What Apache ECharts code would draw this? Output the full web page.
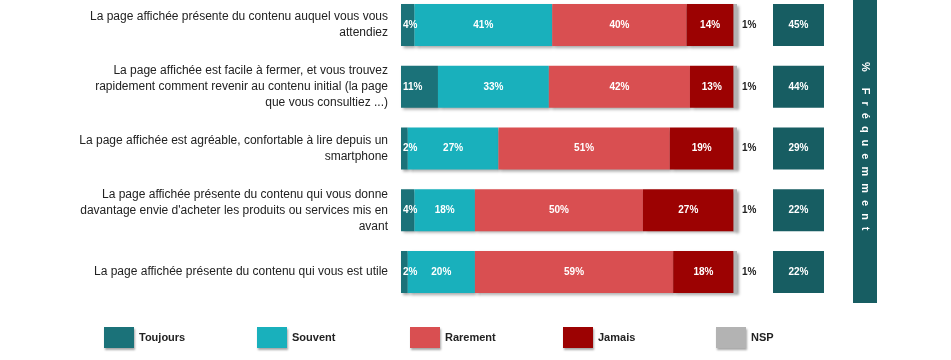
<!DOCTYPE html>
<html>
<head>
<meta charset="utf-8">
<script src="https://cdn.jsdelivr.net/npm/echarts@6/dist/echarts.min.js"></script>
<style>
html,body{margin:0;padding:0;background:#fff;}
#chart{width:951px;height:360px;}
</style>
</head>
<body>
<div id="chart"></div>
<script>
const categories = [
  "La page affichée présente du contenu auquel vous vous\nattendiez",
  "La page affichée est facile à fermer, et vous trouvez\nrapidement comment revenir au contenu initial (la page\nque vous consultiez ...)",
  "La page affichée est agréable, confortable à lire depuis un\nsmartphone",
  "La page affichée présente du contenu qui vous donne\ndavantage envie d'acheter les produits ou services mis en\navant",
  "La page affichée présente du contenu qui vous est utile"
];
const seriesNames = ["Toujours", "Souvent", "Rarement", "Jamais", "NSP"];
const toujours = [4, 11, 2, 4, 2];
const souvent = [41, 33, 27, 18, 20];
const rarement = [40, 42, 51, 50, 59];
const jamais = [14, 13, 19, 27, 18];
const nsp = [1, 1, 1, 1, 1];
const frequemment = [45, 44, 29, 22, 22];
const sideTitle = "% Fréquemment";

const colors = ["#1b7279", "#19b0bc", "#d94f51", "#9c0202", "#b3b3b3"];
const values = [toujours, souvent, rarement, jamais, nsp];

const chart = echarts.init(document.getElementById('chart'));

const shadow = {shadowColor: 'rgba(0,0,0,0.35)', shadowBlur: 3, shadowOffsetX: 2, shadowOffsetY: 2};

const barSeries = seriesNames.map((name, i) => ({
  name: name,
  type: 'bar',
  stack: 'total',
  xAxisIndex: 0, yAxisIndex: 0,
  barWidth: 42,
  data: values[i],
  itemStyle: Object.assign({color: colors[i]}, shadow),
  label: i === 4 ? {
    show: true, position: 'right', distance: 5,
    formatter: '{c}%', color: '#222', fontWeight: 'bold', fontSize: 10,
    fontFamily: 'Liberation Sans'
  } : {
    show: true, position: i === 0 ? 'insideLeft' : 'inside', distance: 2,
    formatter: '{c}%', color: '#fff', fontWeight: 'bold', fontSize: 10,
    fontFamily: 'Liberation Sans'
  },
  emphasis: {disabled: true}
}));

const legendLefts = [99, 252, 405, 558, 711];
const legends = seriesNames.map((n, i) => ({
  data: [n], left: legendLefts[i], top: 322,
  itemWidth: 30, itemHeight: 21, itemGap: 0,
  icon: 'rect',
  selectedMode: false,
  itemStyle: {shadowColor: 'rgba(0,0,0,0.35)', shadowBlur: 2, shadowOffsetX: 1, shadowOffsetY: 2},
  textStyle: {fontSize: 11, fontWeight: 'bold', color: '#222', fontFamily: 'Liberation Sans', padding: [3, 0, 0, 0]}
}));

// side title: place each character with letter spacing
const sideFont = 'bold 11px "Liberation Sans"';
const mctx = document.createElement('canvas').getContext('2d');
mctx.font = sideFont;
const sideChars = [];
let yPos = 62;
sideTitle.split('').forEach((ch, k) => {
  if (ch === ' ') { yPos += 9; return; }
  const w = mctx.measureText(ch).width;
  sideChars.push({type: 'text', x: 865, y: yPos + w / 2, rotation: -Math.PI / 2,
    style: {text: ch, fill: '#fff', font: sideFont, align: 'center', verticalAlign: 'middle'}, silent: true});
  yPos += w + 7;
});

chart.setOption({
  animation: false,
  color: colors,
  legend: legends,
  grid: [
    {left: 401, width: 336, top: 25, height: 247},
    {left: 773, width: 51, top: 25, height: 247}
  ],
  xAxis: [
    {type: 'value', min: 0, max: 100, gridIndex: 0, show: false},
    {type: 'value', min: 0, max: 1, gridIndex: 1, show: false}
  ],
  yAxis: [
    {type: 'category', data: categories, inverse: true, gridIndex: 0, boundaryGap: false,
     axisLine: {show: false}, axisTick: {show: false}, splitLine: {show: false},
     axisLabel: {fontSize: 12, lineHeight: 16, color: '#222', margin: 13, fontFamily: 'Liberation Sans'}},
    {type: 'category', data: categories, inverse: true, gridIndex: 1, boundaryGap: false, show: false}
  ],
  series: barSeries.concat([{
    type: 'scatter',
    xAxisIndex: 1, yAxisIndex: 1,
    symbol: 'rect',
    symbolSize: [51, 42],
    itemStyle: {color: '#175d62', opacity: 1},
    data: frequemment.map((v, i) => [0.5, i]),
    label: {show: true, position: 'inside', color: '#fff', fontWeight: 'bold', fontSize: 10,
      fontFamily: 'Liberation Sans',
      formatter: p => frequemment[p.dataIndex] + '%'},
    emphasis: {disabled: true},
    silent: true
  }]),
  graphic: [
    {type: 'rect', shape: {x: 853, y: 0, width: 24, height: 303}, style: {fill: '#175d62'}, silent: true}
  ].concat(sideChars)
});
</script>
</body>
</html>
